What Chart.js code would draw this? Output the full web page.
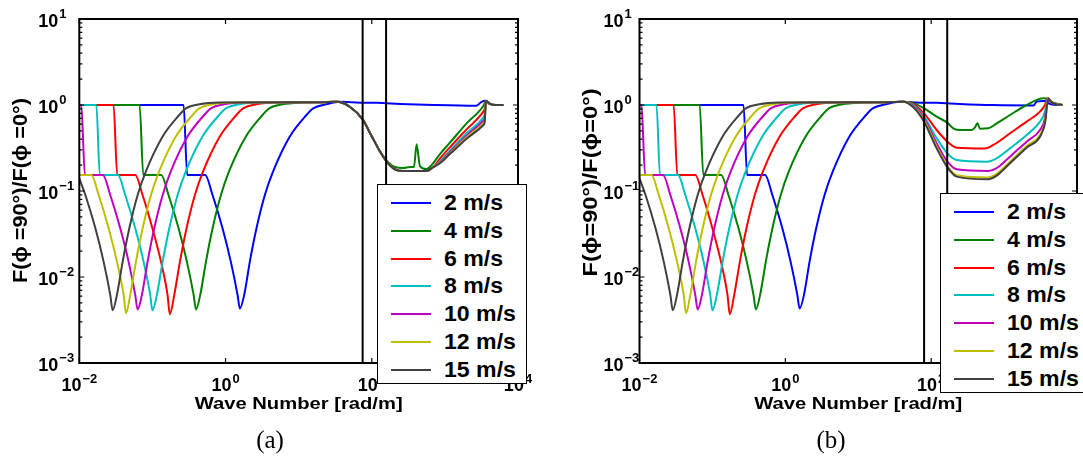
<!DOCTYPE html>
<html>
<head>
<meta charset="utf-8">
<script src="https://cdn.jsdelivr.net/npm/chart.js@4.4.1/dist/chart.umd.min.js"></script>
<style>
  html, body { margin: 0; padding: 0; background: #fff; }
  body { position: relative; width: 1083px; height: 458px; overflow: hidden; font-family: "Liberation Sans", Arial, sans-serif; }
  .panel { position: absolute; top: 0; height: 458px; }
  #panelA { left: 0; width: 540px; }
  #panelB { left: 540px; width: 543px; }
  .legend { position: absolute; width: 150px; height: 200px; box-sizing: border-box; border: 1.5px solid #000; background: #fff; }
  .legend .row { position: absolute; left: 0; right: 0; height: 26px; }
  .legend .swatch { position: absolute; left: 13px; top: 12px; width: 40px; height: 2px; }
  .legend .txt { position: absolute; left: 66px; top: 0; line-height: 26px; font-weight: bold; font-size: 22px; transform: scaleX(1.05); transform-origin: left center; white-space: nowrap; }
  .caption { position: absolute; top: 426px; width: 60px; line-height: 28px; text-align: center; font-family: "Liberation Serif", "Times New Roman", serif; font-size: 25px; }
</style>
</head>
<body>
<div class="panel" id="panelA"><canvas id="chartA"></canvas></div>
<div class="panel" id="panelB"><canvas id="chartB"></canvas></div>
<div class="legend" id="legendA" style="left:377px; top:184px;"></div>
<div class="legend" id="legendB" style="left:940px; top:193px;"></div>
<div class="caption" style="left:240px;">(a)</div>
<div class="caption" style="left:801px;">(b)</div>

<script>
const speeds = ['2 m/s', '4 m/s', '6 m/s', '8 m/s', '10 m/s', '12 m/s', '15 m/s'];
const colors = ['#0000ff', '#008000', '#ff0000', '#00bfbf', '#bf00bf', '#bfbf00', '#404040'];

const xTickValues = [1e-2, 1e0, 1e2, 1e4];
const xTickExps = ['\u22122', '0', '2', '4'];
const yTickValues = [1e-3, 1e-2, 1e-1, 1e0, 1e1];
const yTickExps = ['\u22123', '\u22122', '\u22121', '0', '1'];

const xTitle = 'Wave Number [rad/m]';
const yTitleA = 'F(\u03d5 =90\u00b0)/F(\u03d5 =0\u00b0)';
const yTitleB = 'F(\u03d5=90\u00b0)/F(\u03d5=0\u00b0)';

// vertical reference lines [rad/m]
const markerLinesA = [75, 157];
const markerLinesB = [80, 166];

// low wave numbers (same in both panels)
const kLow = [
  [0.01, 0.267, 0.299, 0.527, 0.664, 0.910, 1.18, 1.46, 1.57, 1.80, 2.15, 2.65, 3.45, 4.49, 7.57, 12.8, 15.8, 24.0],
  [0.01, 0.0668, 0.0750, 0.132, 0.166, 0.228, 0.296, 0.366, 0.394, 0.451, 0.540, 0.665, 0.865, 1.12, 1.90, 3.21, 3.95, 6.03, 11.3],
  [0.01, 0.0294, 0.0330, 0.0582, 0.0733, 0.100, 0.131, 0.161, 0.173, 0.199, 0.238, 0.293, 0.381, 0.495, 0.836, 1.41, 1.74, 2.65, 4.98],
  [0.01, 0.0171, 0.0191, 0.0337, 0.0425, 0.0582, 0.0757, 0.0933, 0.100, 0.115, 0.138, 0.170, 0.221, 0.287, 0.484, 0.818, 1.01, 1.54, 2.88],
  [0.01, 0.01064, 0.01194, 0.0210, 0.0265, 0.0363, 0.0472, 0.0582, 0.0627, 0.0718, 0.0859, 0.106, 0.138, 0.179, 0.302, 0.511, 0.630, 0.959, 1.80],
  [0.01, 0.0146, 0.0184, 0.0252, 0.0327, 0.0404, 0.0435, 0.0498, 0.0596, 0.0735, 0.0955, 0.124, 0.209, 0.354, 0.437, 0.665, 1.25],
  [0.01, 0.0121, 0.0166, 0.0215, 0.0265, 0.0286, 0.0327, 0.0392, 0.0483, 0.0628, 0.0817, 0.138, 0.233, 0.287, 0.438, 0.820]
];
const fLow = [
  [1.0, 1.0, 0.153, 0.153, 0.0898, 0.0368, 0.0151, 0.0062, 0.0043, 0.0062, 0.0151, 0.0368, 0.0898, 0.17, 0.43, 0.765, 0.914, 1.02],
  [1.0, 1.0, 0.153, 0.153, 0.0898, 0.0368, 0.0151, 0.0062, 0.0042, 0.0062, 0.0151, 0.0368, 0.0898, 0.17, 0.43, 0.765, 0.914, 1.02, 1.07],
  [1.0, 1.0, 0.153, 0.153, 0.0898, 0.0368, 0.0151, 0.0062, 0.0037, 0.0062, 0.0151, 0.0368, 0.0898, 0.17, 0.43, 0.765, 0.914, 1.02, 1.07],
  [1.0, 1.0, 0.153, 0.153, 0.0898, 0.0368, 0.0151, 0.0062, 0.0041, 0.0062, 0.0151, 0.0368, 0.0898, 0.17, 0.43, 0.765, 0.914, 1.02, 1.07],
  [1.0, 1.0, 0.153, 0.153, 0.0898, 0.0368, 0.0151, 0.0062, 0.0042, 0.0062, 0.0151, 0.0368, 0.0898, 0.17, 0.43, 0.765, 0.914, 1.02, 1.07],
  [0.153, 0.153, 0.0898, 0.0368, 0.0151, 0.0062, 0.0038, 0.0062, 0.0151, 0.0368, 0.0898, 0.17, 0.43, 0.765, 0.914, 1.02, 1.07],
  [0.14, 0.0898, 0.0368, 0.0151, 0.0062, 0.0041, 0.0062, 0.0151, 0.0368, 0.0898, 0.17, 0.43, 0.765, 0.914, 1.02, 1.07]
];

// high wave numbers, panel (a)
const kHighA = [
  [37, 69, 117, 244, 695, 2700, 3170, 3620, 4100, 5600, 6300],
  [20, 33, 50, 75, 95, 130, 160, 208, 270, 333, 378, 410, 456, 562, 658, 855, 1172, 1982, 3350, 3500, 3650, 4100, 4800, 6300],
  [20, 33, 50, 75, 95, 130, 160, 208, 270, 560, 695, 855, 1172, 1982, 3350, 3500, 3650, 4100, 4800, 6300],
  [20, 33, 50, 75, 95, 130, 160, 208, 270, 560, 695, 855, 1172, 1982, 3350, 3500, 3650, 4100, 4800, 6300],
  [20, 33, 50, 75, 95, 130, 160, 208, 270, 560, 695, 855, 1172, 1982, 3350, 3500, 3650, 4100, 4800, 6300],
  [20, 33, 50, 75, 95, 130, 160, 208, 270, 560, 695, 855, 1172, 1982, 3350, 3500, 3650, 4100, 4800, 6300],
  [20, 33, 50, 75, 95, 130, 160, 208, 270, 560, 695, 855, 1172, 1982, 3350, 3500, 3650, 4100, 4800, 6300]
];
const fHighA = [
  [1.09, 1.065, 1.06, 1.03, 1.0, 0.98, 1.09, 1.12, 1.03, 1.0, 1.0],
  [1.08, 1.09, 0.955, 0.68, 0.47, 0.29, 0.225, 0.19, 0.185, 0.19, 0.19, 0.35, 0.195, 0.18, 0.2, 0.269, 0.365, 0.612, 0.973, 1.05, 1.12, 1.04, 1.0, 1.0],
  [1.08, 1.09, 0.955, 0.68, 0.47, 0.286, 0.22, 0.179, 0.171, 0.171, 0.19, 0.238, 0.322, 0.521, 0.837, 0.90, 1.12, 1.04, 1.0, 1.0],
  [1.08, 1.09, 0.955, 0.68, 0.47, 0.286, 0.22, 0.179, 0.171, 0.171, 0.19, 0.221, 0.294, 0.469, 0.719, 0.78, 1.12, 1.04, 1.0, 1.0],
  [1.08, 1.09, 0.955, 0.68, 0.47, 0.286, 0.22, 0.179, 0.171, 0.171, 0.19, 0.215, 0.282, 0.440, 0.658, 0.71, 1.12, 1.04, 1.0, 1.0],
  [1.08, 1.09, 0.955, 0.68, 0.47, 0.286, 0.22, 0.179, 0.171, 0.171, 0.19, 0.212, 0.274, 0.421, 0.612, 0.66, 1.12, 1.04, 1.0, 1.0],
  [1.08, 1.09, 0.955, 0.68, 0.47, 0.286, 0.22, 0.179, 0.171, 0.171, 0.19, 0.210, 0.269, 0.406, 0.581, 0.63, 1.12, 1.04, 1.0, 1.0]
];

// high wave numbers, panel (b)
const kHighB = [
  [37, 69, 117, 244, 695, 2550, 2800, 3500, 3800, 4200, 5600, 6300],
  [20, 40, 51.3, 79.8, 119, 167, 201, 248, 359, 399, 430, 468, 608, 791, 1205, 2040, 3450, 4050, 4730, 6300],
  [20, 41.5, 56.9, 79.8, 119, 167, 224, 547, 713, 1205, 2040, 3110, 3640, 3920, 4500, 6300],
  [20, 41.5, 56.9, 79.8, 119, 167, 224, 577, 791, 1205, 2040, 3110, 3640, 3960, 4500, 6300],
  [20, 41.5, 56.9, 79.8, 119, 167, 224, 608, 791, 1205, 2040, 3110, 3640, 3960, 4500, 6300],
  [20, 41.5, 56.9, 79.8, 119, 167, 224, 608, 791, 1205, 2040, 3110, 3640, 4000, 4500, 6300],
  [20, 41.5, 56.9, 79.8, 119, 167, 224, 608, 791, 1205, 2040, 3110, 3640, 4050, 4500, 6300]
];
const fHighB = [
  [1.09, 1.065, 1.06, 1.03, 1.0, 0.99, 1.1, 1.11, 1.12, 1.03, 1.0, 1.0],
  [1.08, 1.094, 1.08, 0.915, 0.731, 0.623, 0.536, 0.512, 0.512, 0.55, 0.612, 0.53, 0.536, 0.612, 0.765, 1.0, 1.195, 1.164, 1.065, 1.0],
  [1.08, 1.094, 1.027, 0.80, 0.512, 0.375, 0.319, 0.313, 0.343, 0.469, 0.64, 0.837, 1.0, 1.195, 1.065, 1.0],
  [1.08, 1.094, 1.0, 0.731, 0.41, 0.274, 0.229, 0.219, 0.24, 0.313, 0.448, 0.64, 0.837, 1.195, 1.065, 1.0],
  [1.08, 1.094, 0.973, 0.70, 0.358, 0.219, 0.179, 0.171, 0.184, 0.251, 0.375, 0.512, 0.70, 1.195, 1.065, 1.0],
  [1.08, 1.094, 0.956, 0.67, 0.328, 0.195, 0.153, 0.144, 0.158, 0.219, 0.334, 0.448, 0.64, 1.195, 1.065, 1.0],
  [1.08, 1.094, 0.94, 0.64, 0.313, 0.188, 0.147, 0.137, 0.151, 0.210, 0.319, 0.428, 0.612, 1.195, 1.065, 1.0]
];

const FONT = '"Liberation Sans", Arial, sans-serif';

function zip(ks, fs) {
  return ks.map((k, i) => ({x: k, y: fs[i]}));
}

function stretchText(ctx, text, cx, cy, len, rotate) {
  ctx.save();
  ctx.translate(cx, cy);
  if (rotate) ctx.rotate(-Math.PI / 2);
  const w = ctx.measureText(text).width;
  ctx.scale(len / w, 1);
  ctx.textAlign = 'center';
  ctx.textBaseline = 'middle';
  ctx.fillText(text, 0, 0);
  ctx.restore();
}

// matlab-like box, inward ticks, 10^n labels and axis titles
const frame = {
  id: 'frame',
  afterDraw(chart, args, o) {
    const {ctx, chartArea: a, scales: {x, y}} = chart;
    ctx.save();
    ctx.strokeStyle = '#000';
    ctx.lineWidth = 2;
    ctx.strokeRect(a.left, a.top, a.right - a.left, a.bottom - a.top);

    ctx.lineWidth = 1.2;
    ctx.beginPath();
    xTickValues.forEach(v => {
      const px = x.getPixelForValue(v);
      ctx.moveTo(px, a.bottom); ctx.lineTo(px, a.bottom - 5);
      ctx.moveTo(px, a.top); ctx.lineTo(px, a.top + 5);
    });
    const yTick = (v, len) => {
      const py = y.getPixelForValue(v);
      ctx.moveTo(a.left, py); ctx.lineTo(a.left + len, py);
      ctx.moveTo(a.right, py); ctx.lineTo(a.right - len, py);
    };
    yTickValues.forEach((v, i) => {
      yTick(v, 5);
      if (i < yTickValues.length - 1) {
        for (let m = 2; m < 10; m++) yTick(v * m, 3);
      }
    });
    ctx.stroke();

    const big = 'bold 18px ' + FONT;
    const small = 'bold 13px ' + FONT;
    ctx.fillStyle = '#000';
    ctx.textBaseline = 'middle';
    xTickValues.forEach((v, i) => {
      const px = x.getPixelForValue(v);
      ctx.font = big;
      const w1 = ctx.measureText('10').width;
      ctx.font = small;
      const w2 = ctx.measureText(xTickExps[i]).width;
      const left = px - (w1 + w2 + 1) / 2;
      ctx.textAlign = 'left';
      ctx.font = big;
      ctx.fillText('10', left, a.bottom + 23);
      ctx.font = small;
      ctx.fillText(xTickExps[i], left + w1 + 1, a.bottom + 16);
    });
    yTickValues.forEach((v, i) => {
      const py = y.getPixelForValue(v);
      ctx.font = big;
      ctx.textAlign = 'right';
      ctx.fillText('10', a.left - o.yGap, py + 3);
      ctx.font = small;
      ctx.textAlign = 'left';
      ctx.fillText(yTickExps[i], a.left - o.yGap + 1, py - 5);
    });

    ctx.font = 'bold 17px ' + FONT;
    stretchText(ctx, xTitle, (a.left + a.right) / 2, a.bottom + 41, 208, false);
    ctx.font = 'bold 20px ' + FONT;
    stretchText(ctx, o.yTitle, a.left - o.yTitleDx, a.top + o.yTitleDy, o.yTitleLen, true);
    ctx.restore();
  }
};

function makePanel(canvasId, kHigh, fHigh, lines, pad, frameOpts) {
  const datasets = speeds.map((s, i) => ({
    label: s,
    data: zip(kLow[i].concat(kHigh[i]), fLow[i].concat(fHigh[i])),
    borderColor: colors[i],
    backgroundColor: colors[i],
    borderWidth: 2,
    pointRadius: 0,
    cubicInterpolationMode: 'monotone',
    order: speeds.length - i
  }));
  lines.forEach(k => datasets.push({
    label: '',
    data: [{x: k, y: 1e-3}, {x: k, y: 10}],
    borderColor: '#000',
    borderWidth: 2,
    pointRadius: 0,
    order: -1
  }));

  return new Chart(document.getElementById(canvasId), {
    type: 'line',
    data: {datasets},
    options: {
      responsive: true,
      maintainAspectRatio: false,
      animation: false,
      layout: {padding: pad},
      plugins: {
        legend: {display: false},
        tooltip: {enabled: false},
        frame: frameOpts
      },
      scales: {
        x: {type: 'logarithmic', min: 0.01, max: 10000, display: false},
        y: {type: 'logarithmic', min: 0.001, max: 10, display: false}
      }
    },
    plugins: [frame]
  });
}

function buildLegend(id, chart) {
  const box = document.getElementById(id);
  chart.data.datasets.filter(d => speeds.includes(d.label)).forEach((d, i) => {
    const row = document.createElement('div');
    row.className = 'row';
    row.style.top = Math.round(5 + i * 27.8) + 'px';
    const sw = document.createElement('div');
    sw.className = 'swatch';
    sw.style.background = d.borderColor;
    const t = document.createElement('div');
    t.className = 'txt';
    t.textContent = d.label;
    row.appendChild(sw);
    row.appendChild(t);
    box.appendChild(row);
  });
}

const chartA = makePanel('chartA', kHighA, fHighA, markerLinesA,
  {left: 79.3, right: 22, top: 19, bottom: 95},
  {yGap: 21, yTitle: yTitleA, yTitleDx: 57.6, yTitleDy: 171.5, yTitleLen: 185});
const chartB = makePanel('chartB', kHighB, fHighB, markerLinesB,
  {left: 99.5, right: 6, top: 19, bottom: 95},
  {yGap: 16, yTitle: yTitleB, yTitleDx: 47.8, yTitleDy: 163.5, yTitleLen: 188});

buildLegend('legendA', chartA);
buildLegend('legendB', chartB);
</script>
</body>
</html>
